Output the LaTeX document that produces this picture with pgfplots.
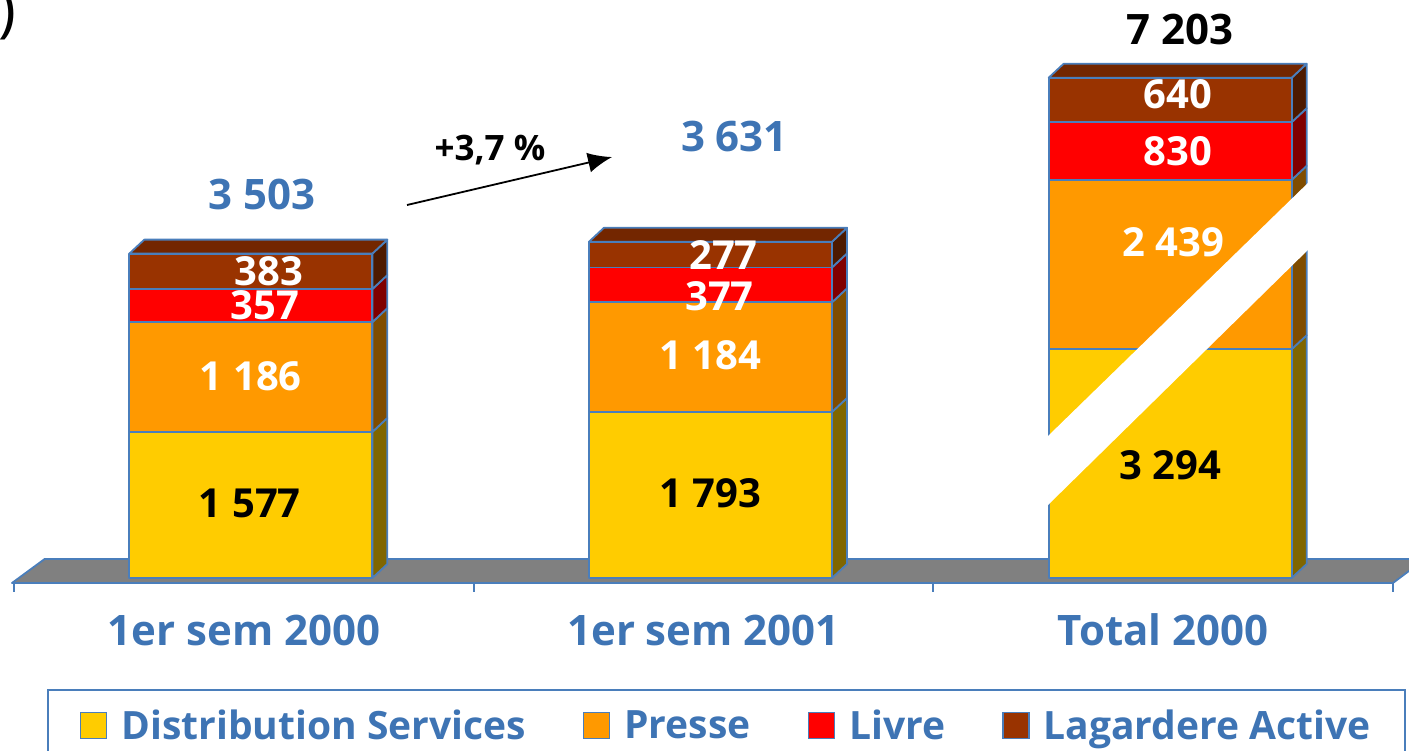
\documentclass[border=0pt]{standalone}
\usepackage{pgfplots}
\pgfplotsset{compat=1.18}
\usepackage{pgfplotstable}
\usetikzlibrary{arrows.meta}
\usepackage{fontspec}
\setmainfont{Open Sans}

\definecolor{cDS}{HTML}{FFCC00}
\definecolor{cDSs}{HTML}{806600}
\definecolor{cPR}{HTML}{FF9900}
\definecolor{cPRs}{HTML}{804D00}
\definecolor{cLI}{HTML}{FF0000}
\definecolor{cLIs}{HTML}{800000}
\definecolor{cLA}{HTML}{993300}
\definecolor{cLAs}{HTML}{4D1A00}
\definecolor{cLAt}{HTML}{732600}
\definecolor{edge}{HTML}{4A7EBB}
\definecolor{txt}{HTML}{3E74B4}
\definecolor{floorc}{HTML}{808080}

% values; s = drawing scale of the broken third bar; ox/oy = label offsets (px)
\pgfplotstableread{
x ds pr li la s oxds oyds oxpr oypr oxli oyli oxla oyla
0 1577 1186 357 383 1 6 2 7 1 21 0 25 0
1 1793 1184 377 277 1 7 2 7 2 16 -11 20 0
2 3294 2439 830 640 0.75 7 -2 10 22 15 0 15 6
}\data

\pgfplotstableread{
x tot s ox oy
0 3503 1 18 59
1 3631 1 31 105
2 7203 0.75 17 48
}\totals

\pgfplotsset{
  base/.style={scale only axis, width=1379pt, height=583pt,
    xmin=-0.5, xmax=2.5, ymin=-54, ymax=6242,
    at={(14pt,168pt)}, anchor=south west, clip=false},
  face/.style={draw=edge, line width=1.8pt, line join=round},
  lab/.style={draw=none, nodes near coords, point meta=explicit,
    every node near coord/.append style={anchor=center, xshift=\ox pt, yshift=\oy pt,
      font=\fontsize{40}{48}\selectfont\bfseries, #1}},
  /pgf/number format/.cd, 1000 sep={\ }, assume math mode=true,
}

\begin{document}
\begin{tikzpicture}[x=1pt,y=1pt]
\useasboundingbox (0,0) rectangle (1409,751);

% ---------- background: floor, axis, depth faces ----------
\begin{axis}[base,
  axis x line=bottom, axis y line=none, ytick=\empty,
  x axis line style={draw=edge, line width=1.8pt, -},
  xtick={0,1,2}, xticklabels={1er sem 2000, 1er sem 2001, Total 2000},
  major tick length=0pt, tick align=outside,
  extra x ticks={-0.5,0.5,1.5,2.5}, extra x tick labels={},
  extra x tick style={major tick length=9pt, tick style={draw=edge, line width=1.8pt}},
  xticklabel style={font=\fontsize{42}{50}\selectfont\bfseries, text=txt, anchor=center, yshift=-47pt},
]
\addplot[fill=floorc, face] coordinates {(-0.5044,-54) (-0.4334,205) (2.5696,205) (2.5,-54)} --cycle;
% bar 1 depth
\addplot[fill=cDSs, face] coordinates {(0.2796,0) (0.3122,151) (0.3122,1728) (0.2796,1577)} --cycle;
\addplot[fill=cPRs, face] coordinates {(0.2796,1577) (0.3122,1728) (0.3122,2914) (0.2796,2763)} --cycle;
\addplot[fill=cLIs, face] coordinates {(0.2796,2763) (0.3122,2914) (0.3122,3271) (0.2796,3120)} --cycle;
\addplot[fill=cLAs, face] coordinates {(0.2796,3120) (0.3122,3271) (0.3122,3654) (0.2796,3503)} --cycle;
\addplot[fill=cLAt, face] coordinates {(-0.2491,3503) (-0.2165,3654) (0.3122,3654) (0.2796,3503)} --cycle;
% bar 2 depth
\addplot[fill=cDSs, face] coordinates {(1.2796,0) (1.3122,151) (1.3122,1944) (1.2796,1793)} --cycle;
\addplot[fill=cPRs, face] coordinates {(1.2796,1793) (1.3122,1944) (1.3122,3128) (1.2796,2977)} --cycle;
\addplot[fill=cLIs, face] coordinates {(1.2796,2977) (1.3122,3128) (1.3122,3505) (1.2796,3354)} --cycle;
\addplot[fill=cLAs, face] coordinates {(1.2796,3354) (1.3122,3505) (1.3122,3782) (1.2796,3631)} --cycle;
\addplot[fill=cLAt, face] coordinates {(0.7509,3631) (0.7835,3782) (1.3122,3782) (1.2796,3631)} --cycle;
% bar 3 depth (drawn at 0.75 scale)
\addplot[fill=cDSs, face] coordinates {(2.2796,0) (2.3122,151) (2.3122,2621.5) (2.2796,2470.5)} --cycle;
\addplot[fill=cPRs, face] coordinates {(2.2796,2470.5) (2.3122,2621.5) (2.3122,4450.75) (2.2796,4299.75)} --cycle;
\addplot[fill=cLIs, face] coordinates {(2.2796,4299.75) (2.3122,4450.75) (2.3122,5073.25) (2.2796,4922.25)} --cycle;
\addplot[fill=cLAs, face] coordinates {(2.2796,4922.25) (2.3122,5073.25) (2.3122,5553.25) (2.2796,5402.25)} --cycle;
\addplot[fill=cLAt, face] coordinates {(1.7509,5402.25) (1.7835,5553.25) (2.3122,5553.25) (2.2796,5402.25)} --cycle;
\end{axis}

% ---------- front faces ----------
\begin{axis}[base, hide axis, ybar stacked, bar width=243pt, bar shift=7pt]
\addplot[fill=cDS, face] table[x=x, y expr=\thisrow{ds}*\thisrow{s}] {\data};
\addplot[fill=cPR, face] table[x=x, y expr=\thisrow{pr}*\thisrow{s}] {\data};
\addplot[fill=cLI, face] table[x=x, y expr=\thisrow{li}*\thisrow{s}] {\data};
\addplot[fill=cLA, face] table[x=x, y expr=\thisrow{la}*\thisrow{s}] {\data};
\end{axis}

% ---------- break, labels, annotations, legend ----------
\begin{axis}[base, hide axis,
  legend columns=4,
  legend style={at={(0.02393,-0.18182)}, anchor=north west, draw=edge, line width=1.8pt,
    font=\fontsize{39}{46}\selectfont\bfseries, text=txt,
    inner xsep=32pt, inner ysep=18pt,
    /tikz/every odd column/.append style={column sep=12pt},
    /tikz/every even column/.append style={column sep=55pt}},
  legend image code/.code={\draw[#1, draw=edge, line width=1.5pt] (0pt,-13pt) rectangle (26pt,13pt);},
]
\addlegendimage{fill=cDS}\addlegendentry{Distribution Services}
\addlegendimage{fill=cPR}\addlegendentry{Presse}
\addlegendimage{fill=cLI}\addlegendentry{Livre}
\addlegendimage{fill=cLA}\addlegendentry{Lagardere Active}

% scale break on the third bar
\addplot[fill=white, draw=none, forget plot] coordinates {(1.7473,1522.7) (2.3216,4298) (2.3216,3574.5) (1.7473,777.5)} --cycle;

% segment values
\addplot[lab={text=black}, forget plot,
  visualization depends on={\thisrow{oxds} \as \ox}, visualization depends on={\thisrow{oyds} \as \oy}]
  table[x=x, y expr={\thisrow{ds}*\thisrow{s}/2}, meta=ds] {\data};
\addplot[lab={text=white}, forget plot,
  visualization depends on={\thisrow{oxpr} \as \ox}, visualization depends on={\thisrow{oypr} \as \oy}]
  table[x=x, y expr={(\thisrow{ds}+\thisrow{pr}/2)*\thisrow{s}}, meta=pr] {\data};
\addplot[lab={text=white}, forget plot,
  visualization depends on={\thisrow{oxli} \as \ox}, visualization depends on={\thisrow{oyli} \as \oy}]
  table[x=x, y expr={(\thisrow{ds}+\thisrow{pr}+\thisrow{li}/2)*\thisrow{s}}, meta=li] {\data};
\addplot[lab={text=white}, forget plot,
  visualization depends on={\thisrow{oxla} \as \ox}, visualization depends on={\thisrow{oyla} \as \oy}]
  table[x=x, y expr={(\thisrow{ds}+\thisrow{pr}+\thisrow{li}+\thisrow{la}/2)*\thisrow{s}}, meta=la] {\data};

% totals
\addplot[lab={text=txt, font=\fontsize{42}{50}\selectfont\bfseries}, forget plot, restrict x to domain=-0.5:1.5,
  visualization depends on={\thisrow{ox} \as \ox}, visualization depends on={\thisrow{oy} \as \oy}]
  table[x=x, y expr={\thisrow{tot}*\thisrow{s}}, meta=tot] {\totals};
\addplot[lab={text=black, font=\fontsize{42}{50}\selectfont\bfseries}, forget plot, restrict x to domain=1.5:2.5,
  visualization depends on={\thisrow{ox} \as \ox}, visualization depends on={\thisrow{oy} \as \oy}]
  table[x=x, y expr={\thisrow{tot}*\thisrow{s}}, meta=tot] {\totals};

% growth arrow
\draw[-{Latex[length=24pt,width=20pt]}, line width=1.8pt] (axis cs:0.355,4028) -- (axis cs:0.801,4546);
\node[font=\fontsize{35}{40}\selectfont\bfseries] at (axis cs:0.5355,4622) {+3,7 \%};
\end{axis}

% fragment of the cut-off title
\node[anchor=south east, inner sep=0pt, font=\fontsize{60}{60}\selectfont] at (16,711) {)};
\end{tikzpicture}
\end{document}
